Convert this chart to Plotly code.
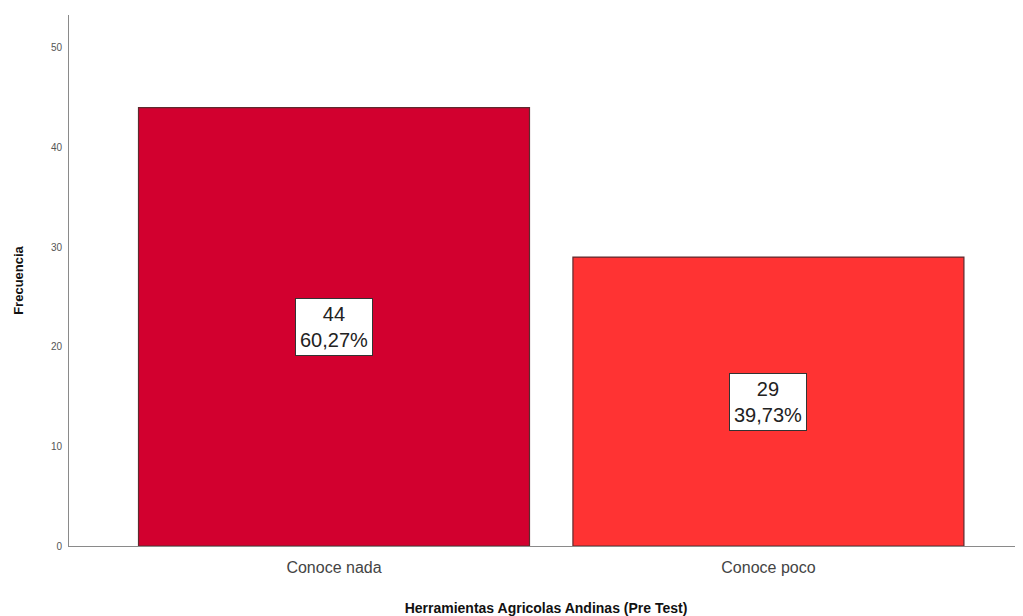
import plotly.graph_objects as go

categories = ["Conoce nada", "Conoce poco"]
counts = [44, 29]
percents = ["60,27%", "39,73%"]
bar_colors = ["#D2002F", "#FF3333"]
y_ticks = [0, 10, 20, 30, 40, 50]

fig = go.Figure()
fig.add_trace(go.Bar(
    x=categories,
    y=counts,
    marker=dict(color=bar_colors, line=dict(color="#5E2A2E", width=1.2)),
    width=0.9,
    hoverinfo="skip",
))

for c, v, p in zip(categories, counts, percents):
    fig.add_annotation(
        x=c, y=v / 2, xref="x", yref="y",
        text=f"{v}<br>{p}",
        showarrow=False,
        font=dict(family="Liberation Sans, Arial, sans-serif", size=20, color="#222222"),
        bgcolor="white",
        bordercolor="#333333",
        borderwidth=1,
        borderpad=4,
        align="center",
    )

# the page body has an 8px margin; compensate so the plot lands where it should
fig.update_layout(
    width=1015, height=608,
    margin=dict(l=61, r=0, t=7, b=70),
    paper_bgcolor="white",
    plot_bgcolor="white",
    showlegend=False,
    font=dict(family="Liberation Sans, Arial, sans-serif"),
    xaxis=dict(
        range=[-0.61, 1.586],
        showline=True, linecolor="#8a8a8a", linewidth=1,
        showgrid=False, zeroline=False,
        ticks="", ticklabelstandoff=7,
        tickfont=dict(size=16, color="#444444"),
        title=dict(text="<b>Herramientas Agricolas Andinas (Pre Test)</b>",
                   font=dict(size=14, color="#111111"), standoff=28),
    ),
    yaxis=dict(
        range=[0, 53.3],
        tickvals=y_ticks,
        showline=True, linecolor="#8a8a8a", linewidth=1,
        showgrid=False, zeroline=False,
        ticks="", ticklabelstandoff=4,
        tickfont=dict(size=10, color="#555555"),
        title=dict(text="<b>Frecuencia</b>", font=dict(size=13, color="#111111"), standoff=24),
    ),
)

fig.write_html("out.html")
